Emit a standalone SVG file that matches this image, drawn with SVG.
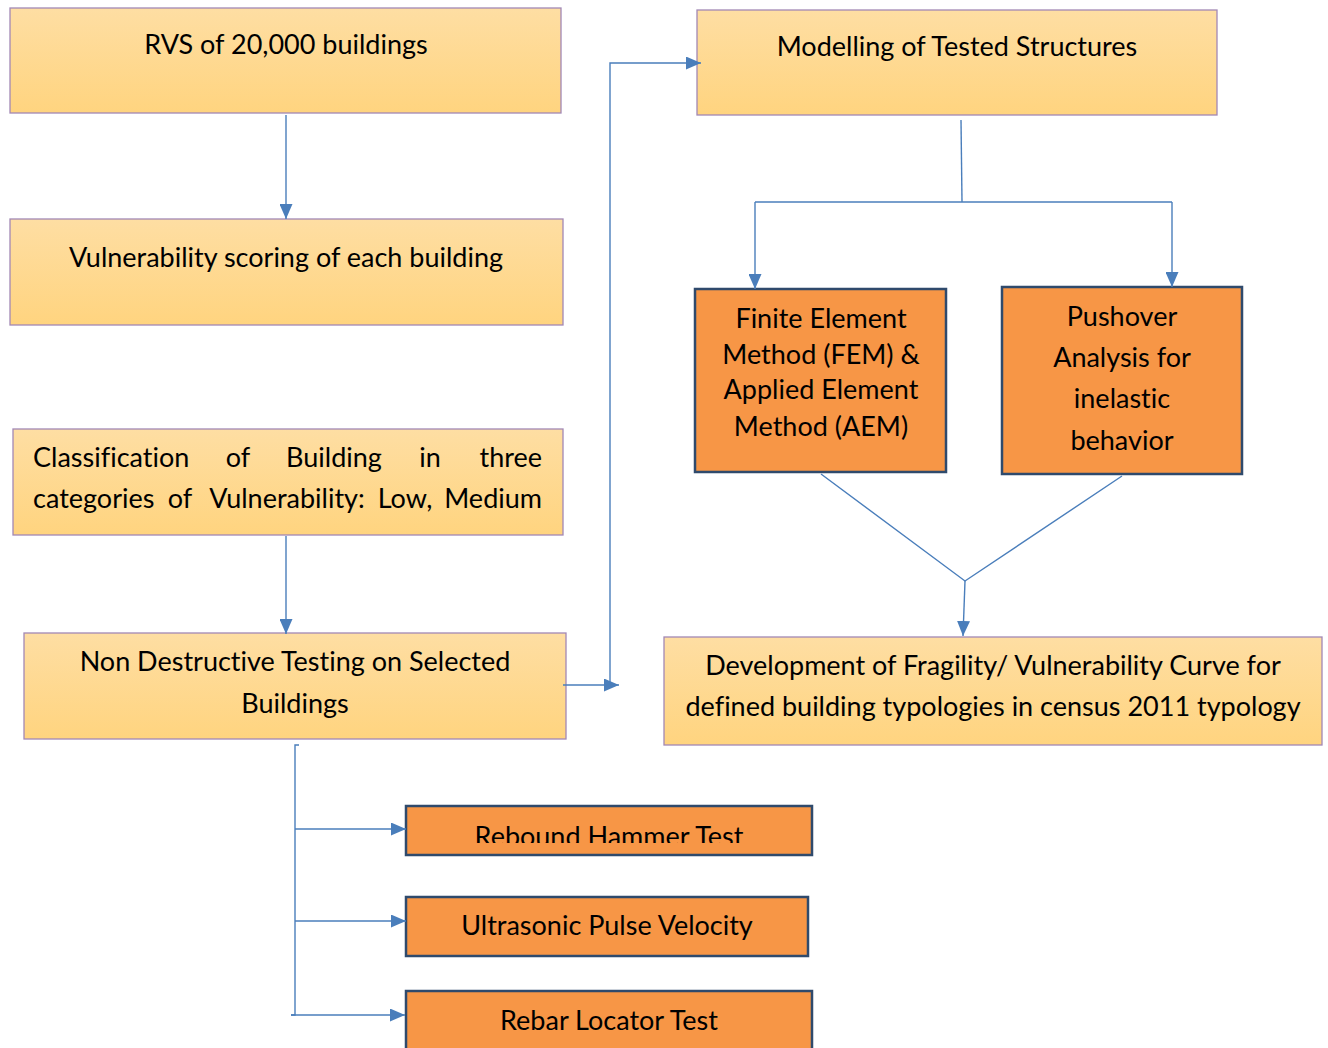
<svg xmlns="http://www.w3.org/2000/svg" width="1328" height="1048" viewBox="0 0 1328 1048">
<defs>
<linearGradient id="g" x1="0" y1="0" x2="0" y2="1">
<stop offset="0" stop-color="#fedea3"/>
<stop offset="1" stop-color="#ffd47f"/>
</linearGradient>
<marker id="ah" markerWidth="15" markerHeight="13" refX="15" refY="6.5" orient="auto" markerUnits="userSpaceOnUse">
<path d="M0,0 L15,6.5 L0,13 Z" fill="#4a7ebb"/>
</marker>
<clipPath id="c9"><rect x="406" y="806" width="406" height="37"/></clipPath>
</defs>
<style>
.y{fill:url(#g);stroke:#a288b5;stroke-width:1.3}
.o{fill:#f79646;stroke:#2f4a6c;stroke-width:2.5}
text{font-family:Lato,"Liberation Sans",sans-serif;font-size:27px;fill:#000;text-anchor:middle;font-variant-ligatures:none}
.s{text-anchor:start}
.e{text-anchor:end}
.c line,.c polyline,.c path{stroke:#4a7ebb;stroke-width:1.4;fill:none}
</style>
<g id="n1"><rect class="y" x="10" y="8" width="551" height="105"/><text x="286" y="54">RVS of 20,000 buildings</text></g>
<g id="n2"><rect class="y" x="10" y="219" width="553" height="106"/><text x="286" y="267">Vulnerability scoring of each building</text></g>
<g id="n3"><rect class="y" x="13" y="429" width="550" height="106"/>
<text class="s" x="33" y="467">Classification</text><text x="238" y="467">of</text><text x="334" y="467">Building</text><text x="430" y="467">in</text><text class="e" x="542" y="467">three</text>
<text class="s" x="33" y="508">categories</text><text x="180" y="508">of</text><text x="287" y="508">Vulnerability:</text><text x="405" y="508">Low,</text><text class="e" x="542" y="508">Medium</text></g>
<g id="n4"><rect class="y" x="24" y="633" width="542" height="106"/><text x="295" y="671">Non Destructive Testing on Selected</text><text x="295" y="713">Buildings</text></g>
<g id="n5"><rect class="y" x="697" y="10" width="520" height="105"/><text x="957" y="56">Modelling of Tested Structures</text></g>
<g id="n6"><rect class="o" x="695" y="289" width="251" height="183"/><text x="821" y="328">Finite Element</text><text x="821" y="364">Method (FEM) &amp;</text><text x="821" y="399">Applied Element</text><text x="821" y="436">Method (AEM)</text></g>
<g id="n7"><rect class="o" x="1002" y="287" width="240" height="187"/><text x="1122" y="326">Pushover</text><text x="1122" y="367">Analysis for</text><text x="1122" y="408">inelastic</text><text x="1122" y="450">behavior</text></g>
<g id="n8"><rect class="y" x="664" y="637" width="658" height="108"/><text x="993" y="675">Development of Fragility/ Vulnerability Curve for</text><text x="993" y="716">defined building typologies in census 2011 typology</text></g>
<g id="n9"><rect class="o" x="406" y="806" width="406" height="49"/><text x="609" y="846" clip-path="url(#c9)">Rebound Hammer Test</text></g>
<g id="n10"><rect class="o" x="406" y="897" width="402" height="59"/><text x="607" y="935">Ultrasonic Pulse Velocity</text></g>
<g id="n11"><rect class="o" x="406" y="991" width="406" height="70"/><text x="609" y="1030">Rebar Locator Test</text></g>
<g id="connectors" class="c">
<line x1="286" y1="115" x2="286" y2="219" marker-end="url(#ah)"/>
<line x1="286" y1="536" x2="286" y2="634" marker-end="url(#ah)"/>
<line x1="563" y1="685" x2="619" y2="685" marker-end="url(#ah)"/>
<polyline points="610,685 610,63 701,63" marker-end="url(#ah)"/>
<line x1="961" y1="120" x2="962" y2="202"/>
<line x1="755" y1="202" x2="1172" y2="202"/>
<line x1="755" y1="202" x2="755" y2="289" marker-end="url(#ah)"/>
<line x1="1172" y1="202" x2="1172" y2="287" marker-end="url(#ah)"/>
<polyline points="821,474 965,581 1122,476"/>
<line x1="965" y1="581" x2="963" y2="636" marker-end="url(#ah)"/>
<polyline points="299,745 295,745 295,1015 291,1015"/>
<line x1="295" y1="829" x2="406" y2="829" marker-end="url(#ah)"/>
<line x1="295" y1="921" x2="406" y2="921" marker-end="url(#ah)"/>
<line x1="291" y1="1015" x2="405" y2="1015" marker-end="url(#ah)"/>
</g>
</svg>
